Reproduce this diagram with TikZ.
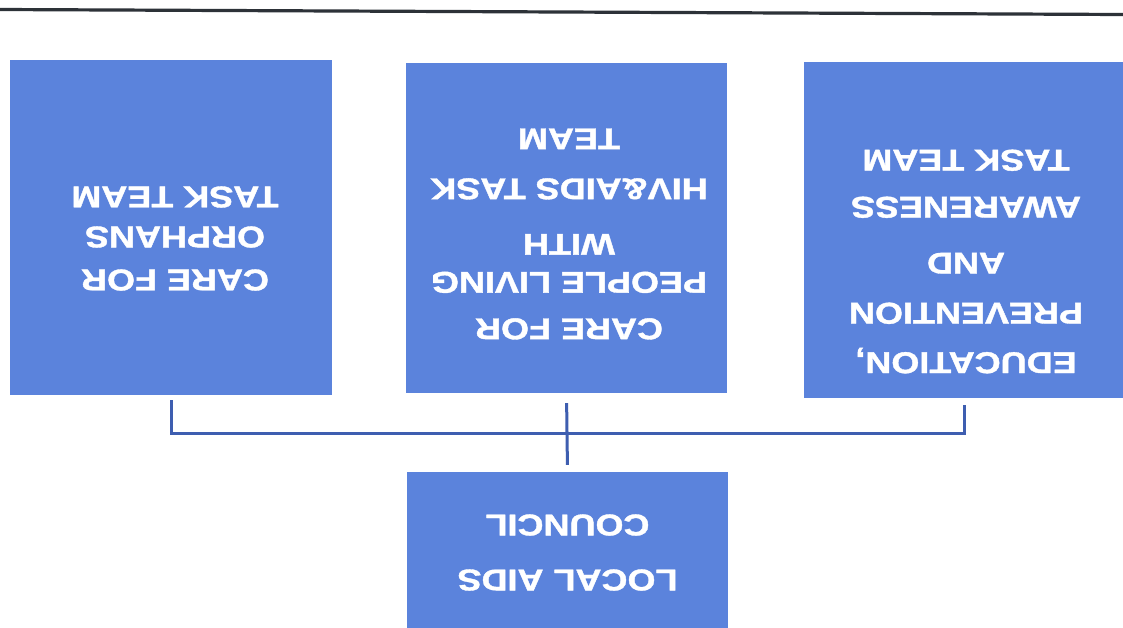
\documentclass[tikz,border=0pt]{standalone}
\usepackage{fontspec}
\setmainfont{Liberation Sans}
\newfontfamily\capfont{Liberation Sans Bold}[FakeBold=1.2]
\definecolor{boxblue}{RGB}{91,131,220}
\definecolor{linkblue}{RGB}{62,94,176}
\definecolor{rule}{RGB}{45,50,56}
\tikzset{
  teambox/.style={rectangle, fill=boxblue, draw=none, inner sep=0pt},
  caption/.style={text=white, align=center, inner sep=0pt, rotate=180, xscale=1.2,
    font=\fontsize{30}{36}\selectfont\capfont},
  conn/.style={draw=linkblue, line width=3pt},
}
\begin{document}
\begin{tikzpicture}[x=1pt, y=-1pt]
\useasboundingbox (0,0) rectangle (1123,627);
\fill[white] (0,0) rectangle (1123,627);

% rule across the top
\draw[rule, line width=3.2pt] (0,9.5) -- (1123,14.5);

% team boxes
\node[teambox, minimum width=322pt, minimum height=335pt] (orph) at (171,227.5) {};
\node[teambox, minimum width=321pt, minimum height=330pt] (plwha) at (566.5,228) {};
\node[teambox, minimum width=320pt, minimum height=336pt] (edu) at (964,230) {};
\node[teambox, minimum width=321pt, minimum height=170pt] (lac) at (567.5,557) {};

% captions, printed upside down
\node[caption] (orphT) at (175,238.5) {CARE FOR\\[7pt]ORPHANS\\[4pt]TASK TEAM};
\node[caption] (plwhaT) at (569,234) {CARE FOR\\[10.5pt]PEOPLE LIVING\\[2pt]WITH\\[19.5pt]HIV\&AIDS TASK\\[14pt]TEAM};
\node[caption] (eduT) at (966,261.5) {EDUCATION,\\[13.5pt]PREVENTION\\[14pt]AND\\[20pt]AWARENESS\\[11pt]TASK TEAM};
\node[caption] (lacT) at (567.5,552.5) {LOCAL AIDS\\[19pt]COUNCIL};

% connectors
\coordinate (hub) at (567,433);
\draw[conn, shorten <=5pt] (orph.south) |- (hub);
\draw[conn, shorten <=7pt] (edu.south) |- (hub);
\draw[conn, shorten <=10pt, shorten >=7pt] (plwha.south) -- (lac.north);
\end{tikzpicture}
\end{document}
